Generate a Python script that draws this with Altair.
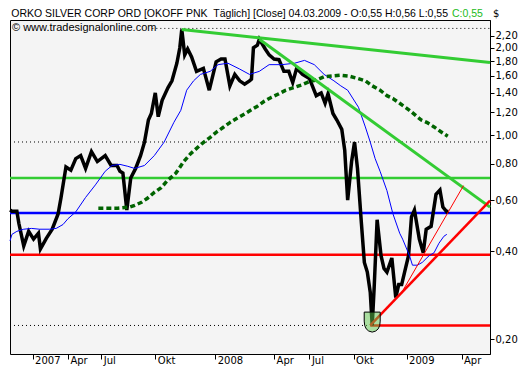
import altair as alt
import pandas as pd

# ---- data (t = bar position along the time axis) ----
price_t = [0, 2, 7, 9, 14, 19, 24, 29, 31, 37, 43, 49, 52, 57, 62, 67, 72, 77, 83, 89,
           97, 103, 109, 112, 115, 119, 123, 128, 133, 137, 141, 144, 148, 151, 155, 161, 165, 170, 173, 175,
           178, 181, 185, 190, 197, 203, 210, 215, 219, 224, 229, 234, 239, 244, 246, 248, 252, 254, 260, 264,
           269, 274, 279, 284, 288, 292, 298, 305, 312, 317, 321, 324, 329, 333, 338, 341, 344, 348, 351, 354,
           358, 361, 364, 367, 369, 371, 374, 378, 381, 384, 389, 393, 396, 399, 402, 406, 409, 412, 417, 421,
           424, 429, 434, 438, 441, 445, 447]
price_v = [0.555, 0.55, 0.55, 0.50, 0.418, 0.469, 0.441, 0.462, 0.408, 0.444,
           0.477, 0.538, 0.613, 0.78, 0.76, 0.833, 0.853, 0.771, 0.88, 0.814,
           0.853, 0.789, 0.789, 0.754, 0.743, 0.555, 0.715, 0.771, 0.853, 0.949,
           1.13, 1.19, 1.40, 1.16, 1.32, 1.46, 1.54, 1.77, 2.0, 2.31,
           1.89, 1.98, 1.86, 1.66, 1.70, 1.43, 1.79, 1.83, 1.83, 1.48,
           1.62, 1.54, 1.50, 1.54, 1.56, 2.0, 2.04, 2.14, 1.98, 1.89,
           1.83, 1.82, 1.66, 1.66, 1.52, 1.70, 1.62, 1.57, 1.37, 1.40,
           1.29, 1.39, 1.19, 1.13, 1.05, 0.89, 0.60, 0.814, 0.949, 0.771,
           0.499, 0.367, 0.340, 0.29, 0.223, 0.301, 0.514, 0.387, 0.35, 0.34,
           0.38, 0.278, 0.308, 0.308, 0.34, 0.387, 0.526, 0.555, 0.441, 0.396,
           0.477, 0.488, 0.628, 0.65, 0.568, 0.547, 0.55]

fast_t = [0, 2, 7, 14, 22, 30, 40, 47, 54, 59, 67, 77, 87, 97, 104, 112, 120, 127, 137, 147,
          157, 167, 174, 180, 187, 194, 204, 212, 222, 234, 244, 254, 264, 277, 290, 300, 310, 320, 330, 337,
          344, 355, 362, 367, 372, 377, 384, 390, 397, 400, 407, 410, 415, 420, 427, 432, 437, 442, 445]
fast_v = [0.435, 0.458, 0.469, 0.477, 0.48, 0.477, 0.477, 0.48, 0.495, 0.518,
          0.547, 0.613, 0.677, 0.754, 0.789, 0.796, 0.784, 0.771, 0.789, 0.853,
          0.949, 1.11, 1.22, 1.43, 1.54, 1.62, 1.66, 1.75, 1.77, 1.69,
          1.62, 1.66, 1.75, 1.75, 1.77, 1.81, 1.75, 1.62, 1.54, 1.48,
          1.43, 1.25, 1.07, 0.949, 0.833, 0.754, 0.647, 0.54, 0.462, 0.441,
          0.387, 0.359, 0.359, 0.367, 0.387, 0.396, 0.427, 0.451, 0.458]

slow_t = [90, 100, 110, 122, 127, 134, 140, 147, 154, 160, 169, 177, 184, 195, 204, 210, 217, 224, 230, 239,
          245, 252, 259, 266, 274, 281, 289, 297, 305, 312, 320, 329, 337, 345, 354, 362, 369, 377, 384, 390,
          397, 407, 419, 425, 432, 439, 446]
slow_v = [0.563, 0.563, 0.563, 0.568, 0.576, 0.590, 0.609, 0.638, 0.662, 0.698,
          0.743, 0.814, 0.866, 0.935, 0.986, 1.025, 1.065, 1.107, 1.14, 1.186,
          1.22, 1.26, 1.31, 1.35, 1.39, 1.43, 1.46, 1.49, 1.53, 1.55,
          1.59, 1.60, 1.61, 1.60, 1.57, 1.54, 1.48, 1.43, 1.37, 1.34,
          1.29, 1.22, 1.13, 1.107, 1.07, 1.03, 0.994]

level_green = 0.715
level_blue = 0.542
level_red = 0.39
level_low = 0.223
dot_high = 2.33
dot_mid = 0.95

trend_green_a_t = [175, 489]
trend_green_a_v = [2.31, 1.78]
trend_green_b_t = [254, 489]
trend_green_b_v = [2.14, 0.568]
trend_red_t = [367, 489]
trend_red_v = [0.223, 0.598]
trend_red_thin_t = [399, 462]
trend_red_thin_v = [0.289, 0.673]
low_mark_t = [369]
low_mark_v = [0.229]

tick_t = [23, 59, 93, 148, 209, 269, 305, 350, 404, 460]
tick_lab = ["2007", "Apr", "Jul", "Okt", "2008", "Apr", "Jul", "Okt", "2009", "Apr"]
y_ticks = [0.2, 0.4, 0.6, 0.8, 1.0, 1.2, 1.4, 1.6, 1.8, 2.0, 2.2]

T_MAX = 489
W, H = 480, 334

x_label_expr = " : ".join(f"datum.value == {t} ? '{l}'" for t, l in zip(tick_t, tick_lab)) + " : ''"

x_enc = alt.X("t:Q", title=None,
              scale=alt.Scale(domain=[0, T_MAX], nice=False, zero=False),
              axis=alt.Axis(values=tick_t, labelExpr=x_label_expr, grid=False,
                            tickSize=5, tickColor="black", domain=False,
                            labelAlign="left", labelBaseline="top", labelPadding=-4,
                            labelOffset=2, labelFont="DejaVu Sans", labelFontSize=10,
                            labelColor="black", labelOverlap=False, labelFlush=False,
                            labelBound=False))
y_enc = alt.Y("v:Q", title=None,
              scale=alt.Scale(type="log", domain=[0.178, 2.49], nice=False),
              axis=alt.Axis(orient="right", values=y_ticks,
                            labelExpr="replace(format(datum.value, '.2f'), '.', ',')",
                            grid=False, tickSize=4, tickColor="black", domain=True,
                            domainColor="black", labelPadding=1, labelFont="DejaVu Sans",
                            labelFontSize=10, labelColor="black", labelOverlap=False,
                            labelFlush=False, labelBound=False))


def seg(ts, vs, color, width, dash=None):
    df = pd.DataFrame({"t": ts, "v": vs})
    kw = dict(color=color, strokeWidth=width)
    if dash:
        kw["strokeDash"] = dash
    return alt.Chart(df).mark_line(**kw).encode(x=x_enc, y=y_enc)


layers = [
    seg([0, T_MAX], [dot_mid, dot_mid], "black", 1, [1, 3]),
    seg([145, T_MAX], [dot_high, dot_high], "black", 1, [1, 3]),
    seg([0, 367], [level_low, level_low], "black", 1, [1, 3]),
    seg([0, T_MAX], [level_green, level_green], "#33cc33", 2.5),
    seg([0, T_MAX], [level_blue, level_blue], "#0000ff", 2.5),
    seg([0, T_MAX], [level_red, level_red], "#ff0000", 2.5),
    seg([367, T_MAX], [level_low, level_low], "#ff0000", 2.5),
    seg(price_t, price_v, "black", 3.5),
    seg(fast_t, fast_v, "#0000ff", 1),
    seg(slow_t, slow_v, "#006400", 3.5, [5, 3]),
    seg(trend_green_a_t, trend_green_a_v, "#33cc33", 3),
    seg(trend_green_b_t, trend_green_b_v, "#33cc33", 3),
    seg(trend_red_t, trend_red_v, "#ff0000", 2.5),
    seg(trend_red_thin_t, trend_red_thin_v, "#ff0000", 1),
]

marker = alt.Chart(pd.DataFrame({"t": low_mark_t, "v": low_mark_v})).mark_point(
    shape="M -0.8 -1 L 0.8 -1 L 0.8 -0.1 Q 0.8 0.9 0 1 Q -0.8 0.9 -0.8 -0.1 Z",
    size=400, filled=True, fill="#5fc84b", fillOpacity=0.5,
    stroke="black", strokeWidth=1, strokeOpacity=1, opacity=1,
).encode(x=x_enc, y=y_enc)
layers.append(marker)

one = pd.DataFrame({"k": [0]})
title_black = alt.Chart(one).mark_text(
    text="ORKO SILVER CORP ORD [OKOFF PNK \u00a0Täglich] [Close] 04.03.2009 - O:0,55 H:0,56 L:0,55",
    align="right", baseline="alphabetic", font="Liberation Sans", fontSize=10.5, color="black",
).encode(x=alt.value(438), y=alt.value(-3))
title_green = alt.Chart(one).mark_text(
    text="C:0,55", align="left", baseline="alphabetic", font="Liberation Sans",
    fontSize=10.5, color="#22bb22",
).encode(x=alt.value(442), y=alt.value(-3))
dollar = alt.Chart(one).mark_text(
    text="$", align="left", baseline="alphabetic", font="DejaVu Sans", fontSize=10, color="black",
).encode(x=alt.value(W + 3), y=alt.value(-3))
copyright_txt = alt.Chart(one).mark_text(
    text="© www.tradesignalonline.com", align="left", baseline="top",
    font="Liberation Sans", fontSize=11, color="black",
).encode(x=alt.value(2), y=alt.value(2))
layers += [title_black, title_green, dollar, copyright_txt]

chart = alt.layer(*layers).properties(
    width=W, height=H,
    autosize=alt.AutoSizeParams(type="none"),
    padding={"left": 2, "top": 12, "right": 32, "bottom": 16},
    background="white",
).configure_view(stroke="black", strokeWidth=1, fill="#f4f4f4")

chart.save("out.html", embed_options={"renderer": "svg", "actions": False})
